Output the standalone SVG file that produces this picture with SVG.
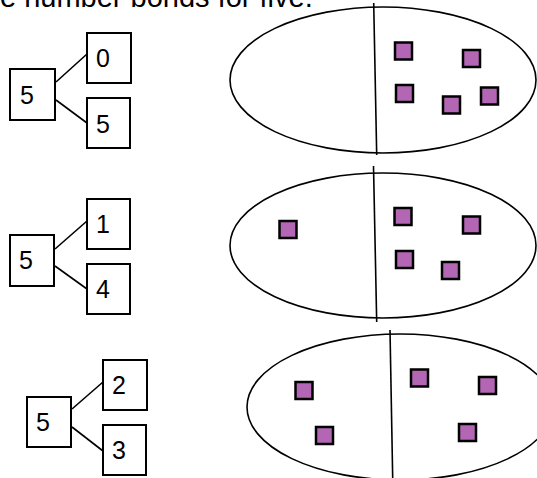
<svg xmlns="http://www.w3.org/2000/svg" width="537" height="478" viewBox="0 0 537 478">
<style>
.box{fill:#fff;stroke:#000;stroke-width:2}
.num{font-family:"Liberation Sans",Arial,sans-serif;font-size:25px;fill:#000}
.title{font-family:"Liberation Sans",Arial,sans-serif;font-size:29px;fill:#000}
.link{stroke:#000;stroke-width:1.6;fill:none}
.oval{fill:#fff;stroke:#000;stroke-width:1.6}
.div{stroke:#000;stroke-width:1.6;fill:none}
.cnt{fill:#b366b3;stroke:#000;stroke-width:2.5}
</style>
<rect width="537" height="478" fill="#fff"/>
<text class="title" x="0" y="7">e number bonds for five.</text>

<g id="connectors">
<line class="link" x1="56" y1="82" x2="87" y2="54"/>
<line class="link" x1="56" y1="100" x2="87" y2="123"/>
<line class="link" x1="55" y1="249" x2="87" y2="221"/>
<line class="link" x1="55" y1="266" x2="87" y2="289"/>
<line class="link" x1="72" y1="409" x2="103" y2="382"/>
<line class="link" x1="72" y1="427" x2="103" y2="451"/>
</g>

<g id="bond1-whole"><rect class="box" x="10" y="69" width="45" height="51"/><text class="num" x="20" y="104">5</text></g>
<g id="bond1-part1"><rect class="box" x="87" y="33" width="44" height="50"/><text class="num" x="96" y="67">0</text></g>
<g id="bond1-part2"><rect class="box" x="87" y="98" width="43" height="50"/><text class="num" x="96" y="133">5</text></g>

<g id="bond2-whole"><rect class="box" x="10" y="235" width="44" height="51"/><text class="num" x="19" y="269">5</text></g>
<g id="bond2-part1"><rect class="box" x="87" y="199" width="43" height="50"/><text class="num" x="96" y="233">1</text></g>
<g id="bond2-part2"><rect class="box" x="87" y="264" width="43" height="50"/><text class="num" x="96" y="298">4</text></g>

<g id="bond3-whole"><rect class="box" x="27" y="397" width="44" height="50"/><text class="num" x="36" y="431">5</text></g>
<g id="bond3-part1"><rect class="box" x="103" y="360" width="44" height="50"/><text class="num" x="112" y="394">2</text></g>
<g id="bond3-part2"><rect class="box" x="103" y="425" width="43" height="50"/><text class="num" x="112" y="459">3</text></g>

<g id="oval1">
<ellipse class="oval" cx="383" cy="80" rx="153" ry="73"/>
<line class="div" x1="373.7" y1="3" x2="376.7" y2="155"/>
<rect class="cnt" x="395" y="42.5" width="17" height="17"/>
<rect class="cnt" x="463" y="50" width="17" height="17"/>
<rect class="cnt" x="396" y="85" width="17" height="17"/>
<rect class="cnt" x="443" y="96.5" width="17" height="17"/>
<rect class="cnt" x="481" y="87.5" width="17" height="17"/>
</g>

<g id="oval2">
<ellipse class="oval" cx="383" cy="245.5" rx="153" ry="72.5"/>
<line class="div" x1="373.5" y1="166" x2="376.7" y2="322"/>
<rect class="cnt" x="279.5" y="221" width="17" height="17"/>
<rect class="cnt" x="394.5" y="208" width="17" height="17"/>
<rect class="cnt" x="463" y="216.5" width="17" height="17"/>
<rect class="cnt" x="396" y="251" width="17" height="17"/>
<rect class="cnt" x="442" y="262" width="17" height="17"/>
</g>

<g id="oval3">
<ellipse class="oval" cx="400" cy="407" rx="153" ry="73"/>
<line class="div" x1="390" y1="330" x2="392.7" y2="478"/>
<rect class="cnt" x="295.5" y="382" width="17" height="17"/>
<rect class="cnt" x="316" y="427" width="17" height="17"/>
<rect class="cnt" x="411" y="369.5" width="17" height="17"/>
<rect class="cnt" x="479" y="377" width="17" height="17"/>
<rect class="cnt" x="459" y="424" width="17" height="17"/>
</g>
</svg>
